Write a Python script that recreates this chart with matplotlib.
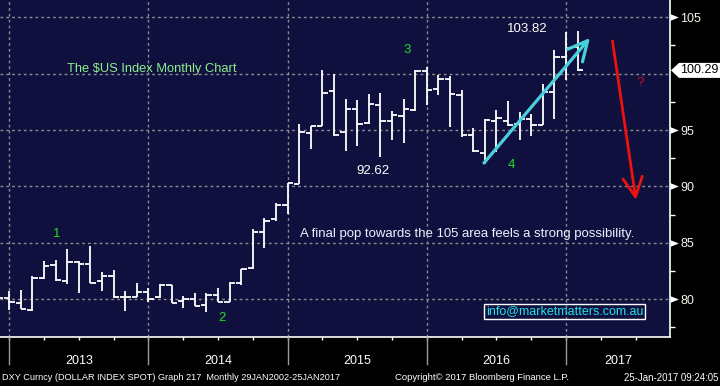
import numpy as np
import matplotlib
matplotlib.use("Agg")
import matplotlib.pyplot as plt
import matplotlib.transforms as mtransforms
from matplotlib.patches import Polygon
from matplotlib.path import Path
from matplotlib.lines import Line2D

# ---------------- data (monthly OHLC, DXY) ----------------
months = ["2012-11", "2012-12",
          "2013-01", "2013-02", "2013-03", "2013-04", "2013-05", "2013-06",
          "2013-07", "2013-08", "2013-09", "2013-10", "2013-11", "2013-12",
          "2014-01", "2014-02", "2014-03", "2014-04", "2014-05", "2014-06",
          "2014-07", "2014-08", "2014-09", "2014-10", "2014-11", "2014-12",
          "2015-01", "2015-02", "2015-03", "2015-04", "2015-05", "2015-06",
          "2015-07", "2015-08", "2015-09", "2015-10", "2015-11", "2015-12",
          "2016-01", "2016-02", "2016-03", "2016-04", "2016-05", "2016-06",
          "2016-07", "2016-08", "2016-09", "2016-10", "2016-11", "2016-12",
          "2017-01"]
opens = [80.30, 80.12,
         79.71, 79.06, 81.90, 83.08, 81.60, 83.32,
         83.14, 81.63, 82.07, 80.21, 80.21, 80.66,
         80.21, 81.28, 79.86, 80.00, 79.53, 80.39,
         79.77, 81.45, 82.78, 85.94, 87.12, 88.36,
         90.24, 94.73, 95.38, 98.49, 94.79, 96.89,
         95.59, 97.19, 95.83, 96.27, 96.75, 100.21,
         98.67, 99.53, 98.14, 94.59, 92.99, 95.80,
         95.83, 95.56, 95.98, 95.47, 98.40, 101.51,
         102.39]
highs = [80.90, 80.69,
         80.86, 82.02, 83.35, 83.49, 84.47, 83.40,
         84.76, 82.46, 82.61, 80.77, 81.48, 81.01,
         81.37, 81.28, 80.33, 80.60, 80.60, 81.04,
         81.57, 82.70, 86.20, 87.18, 88.51, 90.30,
         95.50, 95.33, 100.36, 100.00, 97.78, 97.69,
         98.17, 98.31, 96.69, 97.78, 100.30, 100.59,
         99.85, 99.76, 98.58, 95.21, 95.95, 96.75,
         97.54, 96.57, 96.39, 99.11, 102.10, 103.67,
         103.82]
lows = [79.90, 79.06,
        79.15, 78.94, 81.81, 81.60, 81.37, 80.54,
        81.42, 80.77, 80.12, 79.00, 80.21, 79.74,
        80.09, 79.65, 79.27, 79.39, 78.91, 79.77,
        79.77, 81.28, 82.67, 84.57, 86.97, 87.57,
        90.24, 93.31, 95.33, 94.50, 93.14, 93.61,
        95.56, 92.62, 94.08, 93.85, 96.69, 97.19,
        98.08, 95.27, 94.38, 93.05, 91.95, 93.05,
        95.33, 94.08, 94.47, 95.47, 95.95, 99.45,
        100.20]
closes = [80.12, 79.80,
          79.15, 81.90, 82.96, 81.69, 83.32, 83.14,
          81.45, 82.07, 80.21, 80.21, 80.66, 80.04,
          81.28, 79.71, 80.00, 79.41, 80.39, 79.77,
          81.45, 82.70, 85.94, 86.94, 88.36, 90.30,
          94.79, 95.33, 98.31, 94.56, 96.89, 95.50,
          97.34, 95.83, 96.36, 96.89, 100.21, 98.58,
          99.53, 98.22, 94.59, 93.11, 95.92, 96.09,
          95.44, 95.98, 95.47, 98.40, 101.51, 102.25,
          100.29]
years = ["2013", "2014", "2015", "2016", "2017"]
y_labels = [80, 85, 90, 95, 105]
last_price = 100.29

# ---------------- style ----------------
BG = "#10103f"
GRID = "#8c8c8c"
FONT = "Liberation Sans"
plt.rcParams["font.family"] = [FONT, "DejaVu Sans"]

W, H = 720, 386
fig = plt.figure(figsize=(W / 100, H / 100), dpi=100, facecolor="black")
ax = fig.add_axes([0, 49.5 / H, 670 / W, 336.5 / H])
ax.set_facecolor(BG)

# month-end positions: Dec 2012 -> 0
pos = np.array([(int(m[:4]) - 2013) * 12 + int(m[5:]) for m in months], dtype=float)
o = np.array(opens); h = np.array(highs); l = np.array(lows); c = np.array(closes)

ax.set_xlim(-0.80, 56.96)
ax.set_ylim(76.70, 106.53)

# grid
for yv in [80, 85, 90, 95, 100, 105]:
    ax.axhline(yv, color=GRID, lw=1.0, ls=(0, (2, 2.2)), zorder=1)
year_bounds = [0, 12, 24, 36, 48]
for xv in year_bounds:
    ax.axvline(xv, color=GRID, lw=1.0, ls=(0, (2, 2.2)), zorder=1)

# OHLC bars
tw = 0.46
ax.vlines(pos, l, h, color="white", lw=1.3, zorder=3)
ax.hlines(o, pos - tw, pos, color="white", lw=1.3, zorder=3)
ax.hlines(c, pos, pos + tw, color="white", lw=1.3, zorder=3)

# spines / ticks
for s in ["top", "left"]:
    ax.spines[s].set_visible(False)
for s in ["right", "bottom"]:
    ax.spines[s].set_color("white")
    ax.spines[s].set_linewidth(1.2)
ax.yaxis.tick_right()
ax.set_yticks(y_labels)
ax.set_yticklabels([str(v) for v in y_labels])
ax.set_yticks(np.arange(77.5, 106, 5), minor=True)
ax.tick_params(axis="y", which="major", length=0, pad=7.5, labelsize=9,
               labelcolor="#f6f2e8")
ax.tick_params(axis="y", which="minor", length=3.5, width=1, color="white",
               direction="out")
ax.set_xticks(np.arange(0, 57, 3))
ax.tick_params(axis="x", which="major", length=2.5, width=1, color="white",
               direction="out", labelbottom=False)

# triangle markers at right axis labels
tri = Path([(0, -0.2), (0, 0.2), (0.5, 0), (0, -0.2)],
           [Path.MOVETO, Path.LINETO, Path.LINETO, Path.CLOSEPOLY])
bt = mtransforms.blended_transform_factory(ax.transAxes, ax.transData)
ax.plot([1.0] * len(y_labels), y_labels, ls="none", marker=tri, ms=12,
        color="white", mec="white", mew=0, transform=bt, clip_on=False, zorder=5)

# last price box
bf = mtransforms.blended_transform_factory(fig.transFigure, ax.transData)
hh = 7.5 / 11.28
poly = Polygon([(671 / W, last_price), (679 / W, last_price + hh), (1.0, last_price + hh),
                (1.0, last_price - hh), (679 / W, last_price - hh)],
               closed=True, facecolor="white", edgecolor="none",
               transform=bf, clip_on=False, zorder=6)
ax.add_patch(poly)
ax.text(680 / W, last_price, f"{last_price:.2f}", transform=bf, fontsize=9,
        color="black", va="center", ha="left", zorder=7, clip_on=False)

# year labels & separators in bottom strip
bx = mtransforms.blended_transform_factory(ax.transData, fig.transFigure)
xl = ax.get_xlim()
edges = year_bounds + [xl[1]]
for i, yr in enumerate(years):
    cx = (edges[i] + edges[i + 1]) / 2
    ax.text(cx, (H - 361) / H, yr, transform=bx, ha="center", va="center",
            fontsize=9, color="white", clip_on=False)
for xv in year_bounds:
    fig.add_artist(Line2D([xv, xv], [(H - 337) / H, (H - 364) / H], transform=bx,
                          color="#9a9a9a", lw=1))

# footer
fig.text(2 / W, (H - 378) / H, "DXY Curncy (DOLLAR INDEX SPOT) Graph 217  Monthly 29JAN2002-25JAN2017",
         fontsize=6.6, color="white", ha="left", va="center")
fig.text(395 / W, (H - 378) / H, "Copyright\u00a9 2017 Bloomberg Finance L.P.",
         fontsize=6.8, color="white", ha="left", va="center")
fig.text(718 / W, (H - 378) / H, "25-Jan-2017 09:24:05",
         fontsize=6.9, color="white", ha="right", va="center")

# annotations
def kx(px):
    return (px - 9.3) / 11.6

def py(pyx):
    return 105 - (pyx - 17.3) / 11.28

ax.text(kx(67), py(69), "The $US Index Monthly Chart", color="#8cf08c",
        fontsize=9.3, ha="left", va="center", zorder=4)
green = "#22dd22"
for lab, (xx, yy) in {"1": (57, 234), "2": (222, 318), "3": (407, 50), "4": (511, 165)}.items():
    ax.text(kx(xx), py(yy), lab, color=green, fontsize=9.5, ha="center", va="center", zorder=4)
ax.text(kx(373), py(171), "92.62", color="white", fontsize=9.5, ha="center", va="center", zorder=4)
ax.text(kx(527), py(29), "103.82", color="white", fontsize=9.5, ha="center", va="center", zorder=4)
ax.text(kx(640), py(83), "?", color="#c8102e", fontsize=9.5, ha="center", va="center", zorder=4)
ax.text(kx(300), py(234), "A final pop towards the 105 area feels a strong possibility.",
        color="#eef2ff", fontsize=9.45, ha="left", va="center", zorder=4)
ax.text(kx(486), py(311.5), "info@marketmatters.com.au", color="#22e0e8", fontsize=9,
        ha="left", va="center", zorder=4,
        bbox=dict(facecolor="none", edgecolor="white", lw=1, boxstyle="square,pad=0.12"))

ax.annotate("", xy=(kx(590), py(38)), xytext=(kx(484), py(163)),
            arrowprops=dict(arrowstyle="->,head_length=0.7,head_width=0.35",
                            mutation_scale=20, lw=2.3, color="#48d1dc",
                            shrinkA=0, shrinkB=0), zorder=5)
ax.annotate("", xy=(kx(636), py(200)), xytext=(kx(612.5), py(41)),
            arrowprops=dict(arrowstyle="->,head_length=0.7,head_width=0.35",
                            mutation_scale=20, lw=2.0, color="#ee1111",
                            shrinkA=0, shrinkB=0), zorder=5)

fig.savefig("out.png", dpi=100, facecolor="black")
